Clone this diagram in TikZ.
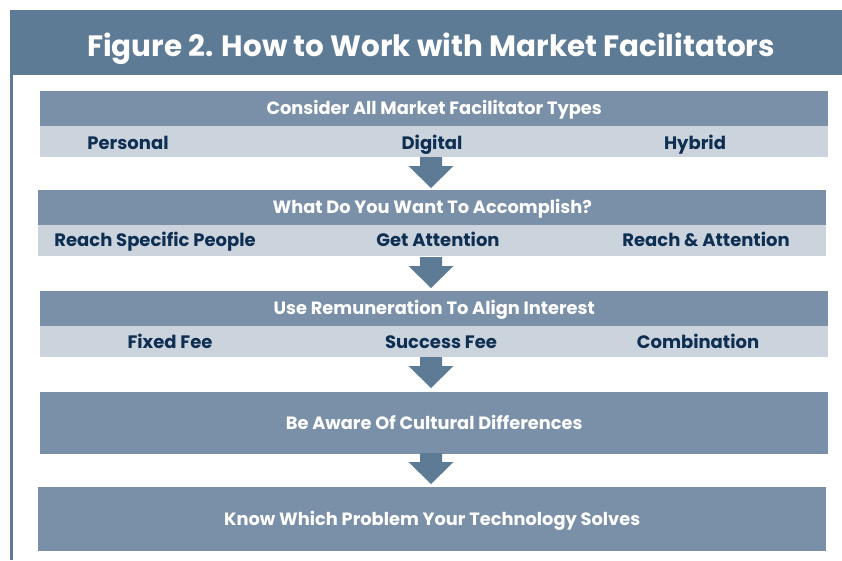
\documentclass[tikz,border=0pt]{standalone}
\usepackage{fontspec}
\setmainfont{Poppins}
\usetikzlibrary{calc}
\definecolor{titlebar}{HTML}{5E7B96}
\definecolor{hdrcol}{HTML}{7990A8}
\definecolor{subcol}{HTML}{CBD3DD}
\definecolor{navy}{HTML}{0E2F52}
\tikzset{
  hdr/.style={fill=hdrcol, inner sep=0pt, anchor=north west, minimum width=788pt, text=white, text height=12.5pt, text depth=0pt, font=\bfseries\fontsize{17.8}{20}\selectfont},
  subrow/.style={fill=subcol, inner sep=0pt, anchor=north west, minimum width=788pt, minimum height=31pt},
  sublbl/.style={text=navy, inner sep=0pt, text height=12.6pt, text depth=0pt, font=\bfseries\fontsize{18}{20}\selectfont},
  titletext/.style={text=white, inner sep=0pt, text height=20.6pt, text depth=0pt, font=\bfseries\fontsize{29.4}{32}\selectfont},
  blockarrow/.style={fill=titlebar}
}
\newcommand{\flowarrow}[1]{%
  \fill[blockarrow] ($(#1)+(-11,0)$) -- ($(#1)+(11,0)$) -- ($(#1)+(11,9)$) -- ($(#1)+(22.5,9)$) -- ($(#1)+(0,31)$) -- ($(#1)+(-22.5,9)$) -- ($(#1)+(-11,9)$) -- cycle;}
\begin{document}
\begin{tikzpicture}[x=1pt,y=-1pt]
\useasboundingbox[fill=white] (0,0) rectangle (842,560);
\fill[titlebar] (10,10) rectangle (842,75);
\fill[titlebar] (10,75) rectangle (12.5,560);
\node[titletext] (title) at (431,46) {Figure 2. How to Work with Market Facilitators};

% box 1
\node[hdr, minimum height=35pt] (h1) at (40,91) {Consider All Market Facilitator Types};
\node[subrow] (s1) at (40,126) {};
\node[sublbl] (p1) at (128,143) {Personal};
\node[sublbl] (p2) at (432,143) {Digital};
\node[sublbl] (p3) at (695,143) {Hybrid};
\coordinate (a1) at (431,157);
\flowarrow{a1}

% box 2
\node[hdr, minimum height=35pt] (h2) at (38,190) {What Do You Want To Accomplish?};
\node[subrow] (s2) at (38,225) {};
\node[sublbl] (q1) at (155,240) {Reach Specific People};
\node[sublbl] (q2) at (438,240) {Get Attention};
\node[sublbl] (q3) at (706,240) {Reach \& Attention};
\coordinate (a2) at (431,257);
\flowarrow{a2}

% box 3
\node[hdr, minimum height=35pt] (h3) at (40,291) {Use Remuneration To Align Interest};
\node[subrow] (s3) at (40,326) {};
\node[sublbl] (r1) at (170,342) {Fixed Fee};
\node[sublbl] (r2) at (441,342) {Success Fee};
\node[sublbl] (r3) at (698,342) {Combination};
\coordinate (a3) at (431,357);
\flowarrow{a3}

% box 4
\node[hdr, minimum height=62pt] (h4) at (40,392) {Be Aware Of Cultural Differences};
\coordinate (a4) at (431,453);
\flowarrow{a4}

% box 5
\node[hdr, minimum height=64pt] (h5) at (38,487) {Know Which Problem Your Technology Solves};
\end{tikzpicture}
\end{document}
